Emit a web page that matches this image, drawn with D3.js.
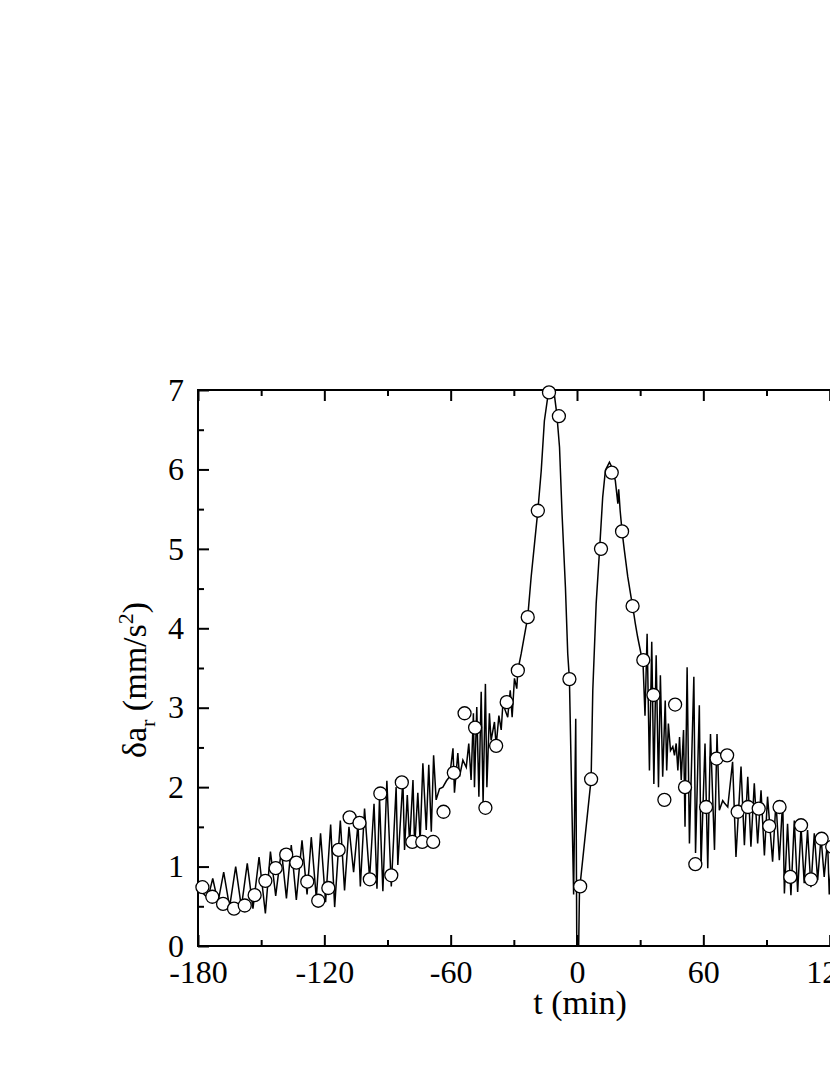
<!DOCTYPE html>
<html>
<head>
<meta charset="utf-8">
<script src="https://cdn.jsdelivr.net/npm/d3@7"></script>
<style>
  body { margin: 0; background: #fff; }
  svg text { font-family: "Liberation Serif", "Times New Roman", serif; fill: #000; }
  .tick line { stroke: #000; stroke-width: 2; }
</style>
</head>
<body>
<script>

// line series (t in min, value in mm/s^2)
var lineTime = [-180, -177.5, -175.3, -173, -170.5, -167.8, -165, -162.1, -159.4, -156.6,
  -153.9, -151, -148, -145.6, -143.1, -140.4, -138, -135.7, -133.3, -130.6,
  -128.2, -126.2, -123.8, -121.8, -119.4, -117, -115.1, -112.4, -110.4, -108.3,
  -106.1, -104, -102.9, -100.9, -98.5, -96.4, -95, -93.8, -92.2, -90.3,
  -88.2, -85.9, -85.1, -82.7, -81.9, -80.6, -79.5, -77.9, -77.1, -75.6,
  -74.5, -73.2, -71.6, -70.4, -69.2, -68.1, -66.9, -65.3, -63.7, -62,
  -60.5, -58.9, -58.2, -56.6, -55.8, -54.2, -52.6, -51.4, -50.3, -49.2,
  -48.7, -47.6, -46.6, -45.5, -44.6, -43.5, -42.8, -41.6, -40.8, -39.2,
  -38.4, -37.1, -36, -35.2, -32.9, -31.7, -30.8, -29.7, -28.6, -28.1,
  -26.5, -23.4, -21.8, -20.2, -18.6, -17, -15.5, -13.9, -12.8, -10.7,
  -9.6, -8.3, -7.1, -5.5, -4.4, -3.6, -1.6, -0.6, -0.1, 0.8,
  1.2, 1.5, 6.7, 7.5, 9.1, 10.7, 12.2, 13.5, 15.4, 16.5,
  18.2, 19.4, 19.8, 20.5, 21.4, 22.5, 24.1, 25.7, 26.5, 27.7,
  28.8, 30.4, 31.3, 32.3, 33.3, 34.4, 35.5, 36.5, 37.6, 38.7,
  39.6, 40.7, 41.9, 42.6, 43.4, 44.4, 45.5, 46.3, 47.1, 47.9,
  48.7, 49.5, 50.6, 51.3, 52.3, 53.4, 55.5, 56.3, 58.1, 58.9,
  60.8, 62.1, 63.4, 65.3, 66.5, 67.6, 69.2, 70, 71.6, 73.9,
  75.5, 77.9, 79.5, 81.1, 82.6, 84.2, 85.8, 87.4, 89, 90.5,
  92.9, 94.5, 96.1, 97.7, 98.5, 100, 101.6, 103.2, 104.8, 106.4,
  107.9, 109.5, 111.1, 112.7, 114.3, 115.9, 117.4, 119, 119.8, 121.5,
  123];

var lineValue = [0.74, 0.66, 0.6, 0.85, 0.55, 0.93, 0.49, 1.0, 0.49, 1.04,
  0.47, 1.12, 0.41, 1.19, 0.63, 1.21, 0.6, 1.27, 0.58, 1.33,
  0.65, 1.37, 0.6, 1.42, 0.55, 1.53, 0.49, 1.58, 0.7, 1.5,
  0.93, 1.54, 0.75, 1.73, 0.85, 1.79, 0.72, 1.86, 0.69, 2.08,
  0.75, 2.0, 1.02, 2.09, 1.21, 1.9, 1.29, 2.09, 1.25, 1.93,
  1.32, 2.3, 1.46, 2.28, 1.44, 2.4, 1.84, 1.98, 2.0, 2.08,
  2.13, 2.49, 1.93, 2.43, 2.13, 2.34, 2.25, 2.55, 2.09, 2.93,
  2.0, 3.01, 1.88, 3.2, 1.8, 3.3, 2.0, 2.93, 2.59, 2.82,
  2.52, 2.9, 2.72, 3.05, 2.88, 3.22, 2.88, 3.37, 3.24, 3.47,
  3.68, 4.14, 4.64, 5.06, 5.48, 5.98, 6.61, 6.91, 7.0, 6.93,
  6.7, 6.28, 5.44, 4.52, 3.68, 3.36, 0.65, 2.86, 0, 0,
  0.75, 0.78, 2.1, 3.22, 4.31, 4.98, 5.65, 5.99, 6.09, 6.03,
  5.86, 5.57, 5.75, 5.48, 5.22, 4.98, 4.65, 4.39, 4.27, 4.06,
  3.89, 3.68, 3.6, 2.9, 3.93, 2.21, 3.83, 2.04, 3.66, 2.0,
  3.41, 2.13, 3.09, 2.21, 2.8, 2.46, 2.51, 2.4, 2.55, 2.21,
  2.63, 2.09, 2.72, 1.5, 3.51, 1.29, 3.39, 1.17, 3.03, 1.0,
  2.55, 0.98, 2.67, 1.21, 2.67, 1.71, 1.83, 1.8, 1.75, 2.32,
  1.12, 2.26, 1.27, 2.13, 1.25, 2.05, 1.29, 1.96, 1.14, 1.88,
  1.06, 1.82, 1.08, 1.83, 0.66, 1.54, 0.64, 1.58, 0.68, 1.5,
  0.79, 1.46, 0.74, 1.42, 0.83, 1.37, 0.87, 1.33, 0.65, 1.3,
  0.8];

// open circles
var circleTime = [-177.9, -173.2, -168.1, -162.9, -157.8, -153.1, -148, -143.1, -138.1, -133.3,
  -128.1, -122.9, -118.1, -113.2, -108, -103.3, -98.4, -93.4, -88.2, -83.2,
  -78.2, -73.5, -68.3, -63.4, -58.5, -53.4, -48.4, -43.5, -38.4, -33.4,
  -28.1, -23.4, -18.6, -13.3, -8.6, -3.6, 1.5, 6.7, 11.4, 16.5,
  21.4, 26.4, 31.5, 36.3, 41.5, 46.6, 51.3, 56.2, 61.3, 66.3,
  71.3, 76.3, 81.2, 86.3, 91.3, 96.2, 101.3, 106.4, 111.1, 116.2,
  121.2];

var circleValue = [0.74, 0.62, 0.53, 0.47, 0.51, 0.64, 0.82, 0.98, 1.15, 1.05,
  0.81, 0.57, 0.73, 1.21, 1.62, 1.55, 0.84, 1.92, 0.89, 2.06,
  1.31, 1.31, 1.31, 1.69, 2.18, 2.93, 2.75, 1.74, 2.52, 3.07,
  3.47, 4.14, 5.48, 6.97, 6.67, 3.36, 0.75, 2.10, 5.00, 5.96,
  5.22, 4.28, 3.60, 3.16, 1.84, 3.04, 2.00, 1.03, 1.75, 2.36,
  2.40, 1.69, 1.75, 1.73, 1.51, 1.75, 0.87, 1.52, 0.84, 1.35,
  1.25];

var xTicks = [-180, -120, -60, 0, 60, 120, 180];
var xMinor = [-150, -90, -30, 30, 90, 150];
var yTicks = [0, 1, 2, 3, 4, 5, 6, 7];
var yMinor = [0.5, 1.5, 2.5, 3.5, 4.5, 5.5, 6.5];

var width = 830,
    height = 1075;

var margin = {top: 390, left: 198},
    plotW = 758,
    plotH = 556;

var svg = d3.select("body").append("svg")
    .attr("width", width)
    .attr("height", height);

var g = svg.append("g")
    .attr("transform", "translate(" + margin.left + "," + margin.top + ")");

var x = d3.scaleLinear().domain([-180, 180]).range([0, plotW]);
var y = d3.scaleLinear().domain([0, 7]).range([plotH, 0]);

// frame
g.append("rect")
    .attr("width", plotW)
    .attr("height", plotH)
    .attr("fill", "none")
    .attr("stroke", "#000")
    .attr("stroke-width", 2);

// bottom axis, ticks pointing in
var xAxis = g.append("g")
    .attr("transform", "translate(0," + plotH + ")")
    .call(d3.axisBottom(x).tickValues(xTicks).tickSize(-11).tickPadding(14)
      .tickFormat(function(d) { return d; }));
xAxis.select(".domain").remove();
xAxis.selectAll("text").style("font-size", "32px");

g.append("g")
    .attr("transform", "translate(0," + plotH + ")")
    .call(d3.axisBottom(x).tickValues(xMinor).tickSize(-6).tickFormat(""))
    .select(".domain").remove();

// top axis
g.append("g")
    .call(d3.axisTop(x).tickValues(xTicks).tickSize(-11).tickFormat(""))
    .select(".domain").remove();
g.append("g")
    .call(d3.axisTop(x).tickValues(xMinor).tickSize(-6).tickFormat(""))
    .select(".domain").remove();

// left axis
var yAxis = g.append("g")
    .call(d3.axisLeft(y).tickValues(yTicks).tickSize(-11).tickPadding(14)
      .tickFormat(d3.format("d")));
yAxis.select(".domain").remove();
yAxis.selectAll("text").style("font-size", "32px");

g.append("g")
    .call(d3.axisLeft(y).tickValues(yMinor).tickSize(-6).tickFormat(""))
    .select(".domain").remove();

// right axis
g.append("g")
    .attr("transform", "translate(" + plotW + ",0)")
    .call(d3.axisRight(y).tickValues(yTicks).tickSize(-11).tickFormat(""))
    .select(".domain").remove();

// line
var lineData = d3.zip(lineTime, lineValue);

g.append("path")
    .datum(lineData)
    .attr("fill", "none")
    .attr("stroke", "#000")
    .attr("stroke-width", 1.5)
    .attr("d", d3.line()
      .x(function(d) { return x(d[0]); })
      .y(function(d) { return y(d[1]); }));

// circles
g.selectAll(".pt")
    .data(d3.zip(circleTime, circleValue))
  .enter().append("circle")
    .attr("class", "pt")
    .attr("cx", function(d) { return x(d[0]); })
    .attr("cy", function(d) { return y(d[1]); })
    .attr("r", 6.5)
    .attr("fill", "#fff")
    .attr("stroke", "#000")
    .attr("stroke-width", 1.3);

// axis titles
svg.append("text")
    .attr("x", 580)
    .attr("y", 1014)
    .attr("text-anchor", "middle")
    .style("font-size", "34px")
    .text("t (min)");

var ylab = svg.append("text")
    .attr("transform", "translate(146,680) rotate(-90)")
    .attr("text-anchor", "middle")
    .style("font-size", "34px");
ylab.append("tspan").text("\u03b4a");
ylab.append("tspan").attr("dy", 9).style("font-size", "22px").text("r");
ylab.append("tspan").attr("dy", -9).text(" (mm/s");
ylab.append("tspan").attr("dy", -13).style("font-size", "22px").text("2");
ylab.append("tspan").attr("dy", 13).text(")");

</script>
</body>
</html>
